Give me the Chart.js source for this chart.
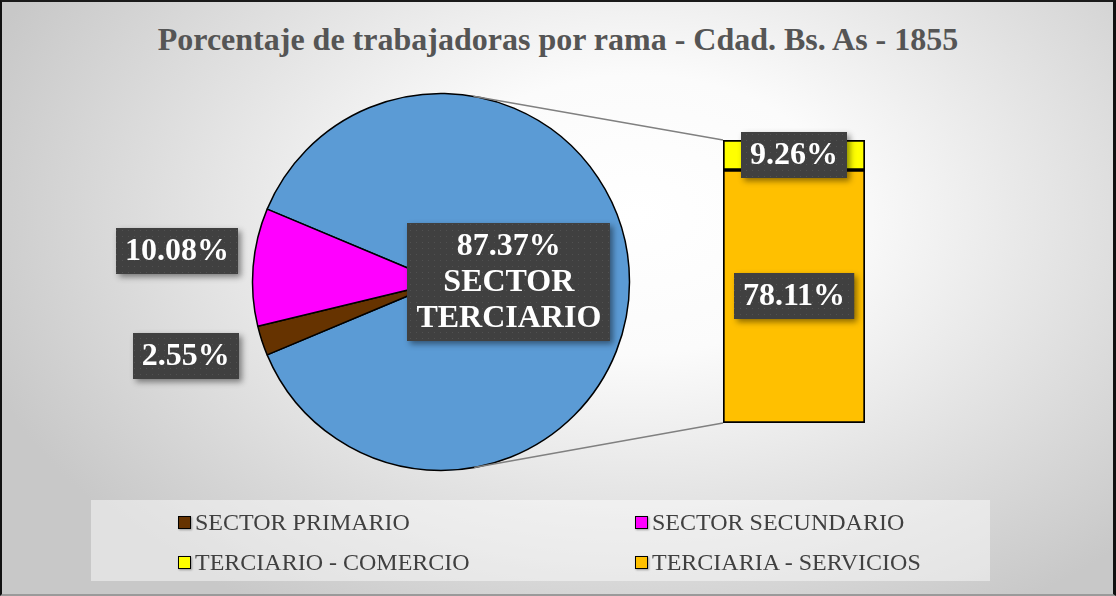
<!DOCTYPE html>
<html>
<head>
<meta charset="utf-8">
<script src="https://cdn.jsdelivr.net/npm/chart.js@4.4.0/dist/chart.umd.min.js"></script>
<style>
    body { margin: 0; }
    #wrap {
        position: relative;
        width: 1116px;
        height: 596px;
        overflow: hidden;
        background: radial-gradient(ellipse 62% 78% at 57% 36%, #ffffff 0%, #fbfbfb 30%, #c8c8c8 100%);
        font-family: "Liberation Serif", "Times New Roman", serif;
    }
    #title {
        position: absolute;
        left: 0; right: 0; top: 21px;
        height: 36px; line-height: 36px;
        text-align: center;
        font-weight: bold;
        font-size: 32px;
        color: #555555;
    }
    canvas { position: absolute; left: 0; top: 0; }
    #legend {
        position: absolute;
        left: 91px; top: 500px;
        width: 899px; height: 81px;
        box-sizing: border-box;
        background: rgba(255, 255, 255, 0.45);
        padding: 2px 0 0 87px;
        display: grid;
        grid-template-columns: 457px 457px;
        grid-auto-rows: 40px;
    }
    .item { display: flex; align-items: center; font-size: 24px; color: #404040; white-space: nowrap; }
    .box {
        width: 11px; height: 11px;
        border: 1.5px solid #000;
        margin-right: 4px;
        box-shadow: 1px 1px 2px rgba(0,0,0,0.35);
    }
    #frame {
        position: absolute; left: 0; top: 0; right: 0; bottom: 0;
        border-left: 2px solid #111;
        border-top: 2px solid #1a1a1a;
        border-right: 3px solid #111;
        border-bottom: 2px solid #9a9a9a;
        pointer-events: none;
    }
</style>
</head>
<body>
<div id="wrap">
    <div id="title">Porcentaje de trabajadoras por rama - Cdad. Bs. As - 1855</div>
    <canvas id="pieChart" width="1116" height="596"></canvas>
    <canvas id="barChart" width="1116" height="596"></canvas>
    <div id="legend"></div>
    <div id="frame"></div>
</div>
<script>
// pie part: the first slice is the one split into the bar
const pieLabels = ['SECTOR TERCIARIO', 'SECTOR PRIMARIO', 'SECTOR SECUNDARIO'];
const pieValues = [87.37, 2.55, 10.08];
const pieColors = ['#5B9BD5', '#663300', '#FF00FF'];

// bar part (bottom to top)
const barLabels = ['TERCIARIA - SERVICIOS', 'TERCIARIO - COMERCIO'];
const barValues = [78.11, 9.26];
const barColors = ['#FFC000', '#FFFF00'];

// legend order as shown
const legendLabels = ['SECTOR PRIMARIO', 'SECTOR SECUNDARIO', 'TERCIARIO - COMERCIO', 'TERCIARIA - SERVICIOS'];
const legendColors = ['#663300', '#FF00FF', '#FFFF00', '#FFC000'];

const TAG_FONT = 'bold 32px "Liberation Serif"';

// faint dotted texture for the dark label boxes
const dotCanvas = document.createElement('canvas');
dotCanvas.width = 6; dotCanvas.height = 6;
const dctx = dotCanvas.getContext('2d');
dctx.fillStyle = 'rgba(255,255,255,0.09)';
dctx.fillRect(2, 2, 1, 1);

function pct(v) {
    return v.toFixed(2) + '%';
}

function drawTag(ctx, lines, cx, cy) {
    ctx.save();
    ctx.font = TAG_FONT;
    const lh = 36;
    const w = Math.max(...lines.map(l => ctx.measureText(l).width)) + 18;
    const h = lines.length * lh + 10;
    const x = Math.round(cx - w / 2), y = Math.round(cy - h / 2);
    ctx.shadowColor = 'rgba(0,0,0,0.45)';
    ctx.shadowBlur = 6;
    ctx.shadowOffsetX = 3;
    ctx.shadowOffsetY = 3;
    ctx.fillStyle = '#404040';
    ctx.fillRect(x, y, w, h);
    ctx.shadowColor = 'transparent';
    ctx.fillStyle = ctx.createPattern(dotCanvas, 'repeat');
    ctx.fillRect(x, y, w, h);
    ctx.fillStyle = '#ffffff';
    ctx.textAlign = 'center';
    ctx.textBaseline = 'middle';
    lines.forEach((l, i) => ctx.fillText(l, cx, y + 5 + lh * (i + 0.5) + 1));
    ctx.restore();
}

const pieTags = {
    id: 'pieTags',
    afterDraw(chart) {
        const ctx = chart.ctx;
        const arcs = chart.getDatasetMeta(0).data;
        arcs.forEach((arc, i) => {
            const mid = (arc.startAngle + arc.endAngle) / 2;
            if (i === 0) {
                // split slice: label inside
                const d = arc.outerRadius * 0.36;
                drawTag(ctx, [pct(pieValues[i]), 'SECTOR', 'TERCIARIO'],
                    arc.x + Math.cos(mid) * d, arc.y + Math.sin(mid) * d);
            } else {
                const d = arc.outerRadius * 1.41;
                const a = mid + 2 * Math.PI / 180;
                drawTag(ctx, [pct(pieValues[i])], arc.x + Math.cos(a) * d, arc.y + Math.sin(a) * d);
            }
        });
    }
};

const pieChart = new Chart(document.getElementById('pieChart'), {
    type: 'pie',
    data: {
        labels: pieLabels,
        datasets: [{
            data: pieValues,
            backgroundColor: pieColors,
            borderColor: '#000000',
            borderWidth: 1.5,
            hoverOffset: 0
        }]
    },
    options: {
        responsive: false,
        animation: false,
        events: [],
        radius: 188.5,
        // first slice centred on the right side
        rotation: 90 - pieValues[0] * 3.6 / 2,
        layout: { padding: { left: 241, right: 475, top: 82, bottom: 114 } },
        plugins: {
            legend: { display: false },
            tooltip: { enabled: false }
        }
    },
    plugins: [pieTags]
});

// grey lines from the bar corners, tangent to the pie
const seriesLines = {
    id: 'seriesLines',
    beforeDatasetsDraw(chart) {
        const arc = pieChart.getDatasetMeta(0).data[0];
        const area = chart.chartArea;
        const ctx = chart.ctx;
        const r = arc.outerRadius;
        ctx.save();
        ctx.strokeStyle = '#808080';
        ctx.lineWidth = 1.5;
        [[area.left, area.top, -1], [area.left, area.bottom, 1]].forEach(([px, py, s]) => {
            const dx = px - arc.x, dy = py - arc.y;
            const d = Math.hypot(dx, dy);
            const t = Math.atan2(dy, dx) + s * Math.acos(r / d);
            ctx.beginPath();
            ctx.moveTo(arc.x + Math.cos(t) * r, arc.y + Math.sin(t) * r);
            ctx.lineTo(px, py);
            ctx.stroke();
        });
        ctx.restore();
    }
};

const barTags = {
    id: 'barTags',
    afterDraw(chart) {
        const ctx = chart.ctx;
        barValues.forEach((v, i) => {
            const bar = chart.getDatasetMeta(i).data[0];
            drawTag(ctx, [pct(v)], bar.x, (bar.y + bar.base) / 2);
        });
    }
};

const barTotal = barValues.reduce((a, b) => a + b, 0);

const barChart = new Chart(document.getElementById('barChart'), {
    type: 'bar',
    data: {
        labels: [''],
        datasets: barValues.map((v, i) => ({
            label: barLabels[i],
            data: [v],
            backgroundColor: barColors[i],
            borderColor: '#000000',
            borderWidth: 2,
            borderSkipped: false,
            categoryPercentage: 1,
            barPercentage: 1
        }))
    },
    options: {
        responsive: false,
        animation: false,
        events: [],
        layout: { padding: { left: 723, right: 251, top: 140, bottom: 173 } },
        scales: {
            x: { stacked: true, display: false },
            y: { stacked: true, display: false, min: 0, max: barTotal }
        },
        plugins: {
            legend: { display: false },
            tooltip: { enabled: false }
        }
    },
    plugins: [seriesLines, barTags]
});

// legend
const legend = document.getElementById('legend');
legendLabels.forEach((label, i) => {
    const item = document.createElement('div');
    item.className = 'item';
    const box = document.createElement('span');
    box.className = 'box';
    box.style.background = legendColors[i];
    item.appendChild(box);
    item.appendChild(document.createTextNode(label));
    legend.appendChild(item);
});
</script>
</body>
</html>
